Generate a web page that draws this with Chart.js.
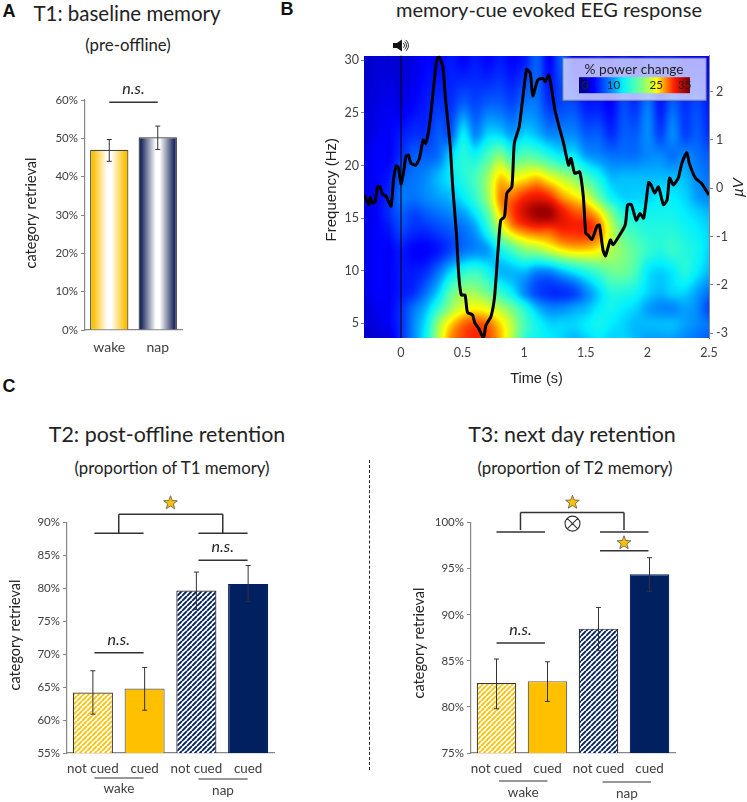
<!DOCTYPE html>
<html>
<head>
<meta charset="utf-8">
<script src="https://cdn.jsdelivr.net/npm/chart.js@4/dist/chart.umd.js"></script>
<style>
  html, body { margin: 0; padding: 0; background: #fff; }
  body { position: relative; width: 747px; height: 802px; overflow: hidden; font-family: Lato, sans-serif; color: #222; }
  canvas { position: absolute; }
  .t { position: absolute; transform: translate(-50%, -50%); white-space: nowrap; }
  .title { font-size: 20.5px; }
  .titleC { font-size: 21.4px; }
  .sub { font-size: 16.8px; }
  .letter { font-family: "Liberation Sans", sans-serif; font-weight: bold; font-size: 18px; color: #111; }
  .sep { position: absolute; left: 369px; top: 460px; height: 310px; border-left: 1px dashed #222; }
</style>
</head>
<body>
<div class="t letter" style="left:9px;top:11px">A</div>
<div class="t letter" style="left:287px;top:9px">B</div>
<div class="t letter" style="left:9px;top:386px">C</div>
<div class="t title" style="left:127px;top:13px">T1: baseline memory</div>
<div class="t sub" style="left:128px;top:44px">(pre-offline)</div>
<div class="t title" style="left:549px;top:9px;font-size:20px">memory-cue evoked EEG response</div>
<div class="t titleC" style="left:167px;top:434px">T2: post-offline retention</div>
<div class="t sub" style="left:172px;top:467px">(proportion of T1 memory)</div>
<div class="t titleC" style="left:572px;top:434px">T3: next day retention</div>
<div class="t sub" style="left:575px;top:467px">(proportion of T2 memory)</div>
<div class="sep"></div>

<canvas id="chartA" width="170" height="285" style="left:23px;top:70px"></canvas>
<canvas id="chartB" width="423" height="358" style="left:324px;top:30px"></canvas>
<canvas id="chartC1" width="270" height="316" style="left:7px;top:486px"></canvas>
<canvas id="chartC2" width="270" height="316" style="left:411px;top:486px"></canvas>

<script>
// panel A
const baselineLabels = ["wake", "nap"]
const baselineValues = [47, 50.3]
const baselineErrLow = [44, 47.1]
const baselineErrHigh = [49.7, 53.2]

// panel C, left
const cueLabels = ["not cued", "cued", "not cued", "cued"]
const t2Values = [64.2, 64.8, 79.7, 80.7]
const t2ErrLow = [60.9, 61.5, 76.8, 78.05]
const t2ErrHigh = [67.5, 68, 82.5, 83.5]

// panel C, right
const t3Values = [82.6, 82.8, 88.5, 94.4]
const t3ErrLow = [79.8, 80.6, 86.1, 92.55]
const t3ErrHigh = [85.2, 84.9, 90.8, 96.2]

// panel B, evoked response
const erpTimes = [-0.3, -0.28, -0.26, -0.25, -0.23, -0.21, -0.19, -0.17, -0.15, -0.12, -0.1, -0.08, -0.06, -0.04, -0.02, 0, 0.02, 0.04, 0.06, 0.08, 0.12, 0.15, 0.18, 0.2, 0.23, 0.26, 0.29, 0.31, 0.34, 0.36, 0.4, 0.42, 0.45, 0.47, 0.49, 0.52, 0.54, 0.58, 0.6, 0.63, 0.67, 0.69, 0.73, 0.76, 0.79, 0.81, 0.84, 0.86, 0.9, 0.92, 0.96, 0.99, 1.02, 1.05, 1.07, 1.11, 1.15, 1.17, 1.2, 1.22, 1.25, 1.28, 1.32, 1.36, 1.38, 1.41, 1.45, 1.48, 1.5, 1.52, 1.55, 1.59, 1.61, 1.64, 1.66, 1.7, 1.72, 1.76, 1.82, 1.84, 1.87, 1.91, 1.94, 1.97, 2.01, 2.03, 2.06, 2.09, 2.13, 2.16, 2.18, 2.21, 2.25, 2.28, 2.32, 2.34, 2.39, 2.44, 2.5]
const erpValues = [-0.14, -0.24, -0.34, -0.19, -0.31, -0.28, 0.03, 0.03, -0.12, -0.17, -0.28, -0.37, 0.17, 0.46, 0.43, 0.09, 0.31, 0.66, 0.69, 0.52, 0.48, 0.62, 1, 0.93, 1.28, 1.97, 2.66, 2.72, 2.52, 1.9, 0.86, 0.03, -0.93, -1.83, -2.21, -2.21, -2.57, -2.62, -2.79, -2.9, -3.1, -2.83, -2.66, -2.24, -1.21, -0.66, -0.59, -0.1, 0.03, 0.93, 1.28, 1.9, 2.46, 2.38, 1.91, 2.24, 2.28, 2.21, 2.34, 2.1, 1.62, 1.31, 0.93, 0.48, 0.62, 0.31, 0.34, -0.17, -0.93, -0.97, -1.06, -0.79, -0.76, -1.28, -1.4, -1.07, -1.17, -1.03, -0.76, -0.34, -0.34, -0.66, -0.52, -0.62, 0.12, 0.07, -0.1, 0.03, -0.34, -0.24, 0.21, 0.07, 0.21, 0.52, 0.74, 0.52, 0.21, 0.1, -0.14]

const heatTimes = [-0.3, -0.2, -0.1, 0, 0.1, 0.2, 0.3, 0.4, 0.5, 0.6, 0.7, 0.8, 0.9, 1, 1.1, 1.2, 1.3, 1.4, 1.5, 1.6, 1.7, 1.8, 1.9, 2, 2.1, 2.2, 2.3, 2.4, 2.5]
const heatFreqs = [3.6, 5, 6.5, 8, 10, 12, 14, 15.5, 17, 19, 21, 23, 26, 30.4]
const heatPower = [
  [1, 1.5, 2, 5, 9, 14, 22, 28, 30, 31, 30, 27, 22, 16, 14, 13, 12, 11, 12, 13, 12, 12, 11, 10, 10, 10, 9, 8, 7],
  [1.5, 2, 3, 5, 9, 13, 21, 26, 29, 30, 29, 26, 22, 17, 14, 12, 12, 12, 13, 14, 13, 12, 11, 11, 11, 11, 10, 9, 8],
  [1.5, 2.5, 3, 5, 8, 11, 16, 21, 24, 25, 24, 22, 19, 15, 11, 9, 9, 10, 11, 13, 14, 13, 12, 10, 9, 9, 10, 9, 6],
  [2, 3, 3, 4, 5, 8, 12, 18, 21, 21, 19, 16, 13, 9, 6, 5, 5, 6, 9, 12, 15, 15, 14, 12, 11, 12, 12, 10, 8],
  [2, 3, 3, 4, 4, 5, 8, 12, 15, 16, 14, 11, 11, 11, 9, 9, 11, 13, 15, 17, 19, 19, 17, 13, 12, 13, 15, 13, 11],
  [2, 3, 3, 4, 3, 3, 4, 6, 8, 9, 10, 14, 17, 20, 21, 23, 25, 26, 26, 25, 22, 20, 18, 16, 15, 16, 15, 14, 12],
  [2, 3, 4, 6, 5, 5, 6, 7, 8, 10, 15, 22, 27, 29, 30, 30, 31, 31, 31, 29, 23, 18, 16, 15, 15, 15, 14, 13, 12],
  [2, 3, 5, 7, 6, 7, 8, 9, 10, 13, 18, 26, 30, 33, 35, 35, 32, 30, 29, 26, 20, 15, 14, 14, 14, 14, 13, 12, 11],
  [2, 3, 5, 8, 8, 9, 10, 11, 13, 16, 21, 28, 29, 31, 32, 31, 28, 26, 24, 19, 14, 12, 12, 12, 13, 13, 12, 10, 9],
  [2, 3, 4, 7, 8, 9, 11, 13, 15, 17, 21, 26, 24, 25, 26, 24, 22, 20, 17, 14, 11, 11, 11, 11, 11, 11, 11, 9, 8],
  [2, 3, 3, 5, 7, 7, 8, 12, 15, 14, 17, 20, 16, 18, 17, 15, 13, 13, 10, 9, 8, 8, 8, 9, 9, 8, 9, 8, 7],
  [1.5, 2.5, 3, 4, 5, 5, 7, 7, 13, 9, 12, 12, 10, 12, 11, 9, 9, 9, 7, 7, 5, 7, 7, 9, 6, 9, 6, 7, 5],
  [1.5, 2, 2.5, 2, 3, 4, 5, 5, 7, 6, 7, 7, 6, 8, 8, 5, 6, 6, 4, 4, 3, 6, 5, 8, 4, 7, 5, 6, 4],
  [1, 1.5, 1.5, 1.5, 2, 3, 3, 4, 3, 4, 3, 4, 3, 4, 7, 3, 7, 3, 3, 4, 3, 4, 3, 4, 4, 4, 3, 3, 3],
]
const freqTicks = [5, 10, 15, 20, 25, 30]
const timeTicks = [0, 0.5, 1, 1.5, 2, 2.5]
const erpTicks = [-3, -2, -1, 0, 1, 2]
const legendTicks = [0, 10, 25, 35]

const GOLD = "#FFC000"
const NAVY = "#002060"
const TICK_COLOR = "#404040"
const AXIS_COLOR = "#868686"
const FONT = "Lato, sans-serif"
const SANS = '"Liberation Sans", sans-serif'

// colour stops [value, r, g, b] of the power scale
const heatStops = [
  [-2, 0, 0, 130], [0, 0, 0, 170], [3, 0, 0, 255], [10, 0, 160, 255], [13, 0, 240, 255],
  [17, 70, 255, 190], [20, 128, 255, 128], [25, 255, 255, 0], [28, 255, 144, 0],
  [31, 255, 32, 0], [35, 160, 0, 0], [37, 120, 0, 0],
]

function heatColor(v) {
  if (v <= heatStops[0][0]) return heatStops[0].slice(1)
  for (let i = 1; i < heatStops.length; i++) {
    const a = heatStops[i - 1]
    const b = heatStops[i]
    if (v <= b[0]) {
      const f = (v - a[0]) / (b[0] - a[0])
      return [a[1] + (b[1] - a[1]) * f, a[2] + (b[2] - a[2]) * f, a[3] + (b[3] - a[3]) * f]
    }
  }
  return heatStops[heatStops.length - 1].slice(1)
}

function gridPos(list, v) {
  let i = 0
  while (i < list.length - 2 && v > list[i + 1]) i++
  return i + Math.min(1, Math.max(0, (v - list[i]) / (list[i + 1] - list[i])))
}

// smooth the coarse grid the way the published map is smoothed
function catmull(a, b, c, d, t) {
  return b + 0.5 * t * (c - a + t * (2 * a - 5 * b + 4 * c - d + t * (3 * (b - c) + d - a)))
}

function heatAt(rowPos, colPos) {
  const r = Math.min(Math.floor(rowPos), heatFreqs.length - 2)
  const c = Math.min(Math.floor(colPos), heatTimes.length - 2)
  const rows = []
  for (let j = -1; j <= 2; j++) {
    const row = heatPower[Math.max(0, Math.min(heatFreqs.length - 1, r + j))]
    const at = (k) => row[Math.max(0, Math.min(heatTimes.length - 1, c + k))]
    rows.push(catmull(at(-1), at(0), at(1), at(2), colPos - c))
  }
  return catmull(rows[0], rows[1], rows[2], rows[3], rowPos - r)
}

let heatImage = null

function buildHeatImage(chart) {
  const area = chart.chartArea
  const w = Math.round(area.right - area.left)
  const h = Math.round(area.bottom - area.top)
  const off = document.createElement("canvas")
  off.width = w
  off.height = h
  const octx = off.getContext("2d")
  const img = octx.createImageData(w, h)
  for (let py = 0; py < h; py++) {
    const rowPos = gridPos(heatFreqs, chart.scales.y.getValueForPixel(area.top + py))
    for (let px = 0; px < w; px++) {
      const colPos = gridPos(heatTimes, chart.scales.x.getValueForPixel(area.left + px))
      const col = heatColor(heatAt(rowPos, colPos))
      const o = (py * w + px) * 4
      img.data[o] = col[0]
      img.data[o + 1] = col[1]
      img.data[o + 2] = col[2]
      img.data[o + 3] = 255
    }
  }
  octx.putImageData(img, 0, 0)
  return off
}

function hatch(color) {
  const size = 5
  const tile = document.createElement("canvas")
  tile.width = size
  tile.height = size
  const c = tile.getContext("2d")
  c.fillStyle = "#fff"
  c.fillRect(0, 0, size, size)
  c.strokeStyle = color
  c.lineWidth = 1.9
  c.beginPath()
  for (let i = -size; i <= size; i += size) {
    c.moveTo(i, size)
    c.lineTo(i + size, 0)
  }
  c.stroke()
  return c.createPattern(tile, "repeat")
}

function sideGradient(colors) {
  return (ctx) => {
    const chart = ctx.chart
    const color = colors[ctx.dataIndex]
    if (!chart.chartArea) return color
    const cx = chart.scales.x.getPixelForValue(ctx.dataIndex)
    const half = 19.5
    const g = chart.ctx.createLinearGradient(cx - half, 0, cx + half, 0)
    g.addColorStop(0, color)
    g.addColorStop(0.08, color)
    g.addColorStop(0.45, "#fff")
    g.addColorStop(0.55, "#fff")
    g.addColorStop(0.92, color)
    g.addColorStop(1, color)
    return g
  }
}

function line(chart, x0, y0, x1, y1, width, color) {
  const c = chart.ctx
  c.save()
  c.strokeStyle = color || "#333"
  c.lineWidth = width || 1.5
  c.beginPath()
  c.moveTo(chart.scales.x.getPixelForValue(x0), chart.scales.y.getPixelForValue(y0))
  c.lineTo(chart.scales.x.getPixelForValue(x1), chart.scales.y.getPixelForValue(y1))
  c.stroke()
  c.restore()
}

function nsLabel(chart, x, val) {
  const c = chart.ctx
  c.save()
  c.font = "italic 16px " + FONT
  c.fillStyle = "#222"
  c.textAlign = "center"
  c.textBaseline = "alphabetic"
  c.fillText("n.s.", chart.scales.x.getPixelForValue(x), chart.scales.y.getPixelForValue(val) - 8)
  c.restore()
}

function star(chart, x, val) {
  const c = chart.ctx
  const px = chart.scales.x.getPixelForValue(x)
  const py = chart.scales.y.getPixelForValue(val)
  c.save()
  c.beginPath()
  for (let i = 0; i < 10; i++) {
    const r = i % 2 ? 3 : 7.2
    const a = -Math.PI / 2 + (i * Math.PI) / 5
    c.lineTo(px + r * Math.cos(a), py + r * Math.sin(a))
  }
  c.closePath()
  c.fillStyle = GOLD
  c.fill()
  c.strokeStyle = "#555"
  c.lineWidth = 0.8
  c.stroke()
  c.restore()
}

function groupLabel(chart, x0, x1, lineOffset, text, textOffset) {
  const c = chart.ctx
  const bottom = chart.chartArea.bottom
  const p0 = chart.scales.x.getPixelForValue(x0)
  const p1 = chart.scales.x.getPixelForValue(x1)
  c.save()
  c.strokeStyle = "#333"
  c.lineWidth = 1.2
  c.beginPath()
  c.moveTo(p0, bottom + lineOffset)
  c.lineTo(p1, bottom + lineOffset)
  c.stroke()
  c.font = "13.5px " + FONT
  c.fillStyle = TICK_COLOR
  c.textAlign = "center"
  c.textBaseline = "middle"
  c.fillText(text, (p0 + p1) / 2, bottom + textOffset)
  c.restore()
}

// rotated axis caption, placed in canvas pixels
function sideLabel(chart, x, y, text, font) {
  const c = chart.ctx
  c.save()
  c.translate(x, y)
  c.rotate(-Math.PI / 2)
  c.font = font
  c.fillStyle = "#222"
  c.textAlign = "center"
  c.textBaseline = "middle"
  c.fillText(text, 0, 0)
  c.restore()
}

const errorBars = {
  id: "errorBars",
  afterDatasetsDraw(chart) {
    const { low, high } = chart.options.plugins.errorBars
    const c = chart.ctx
    c.save()
    c.strokeStyle = "#333"
    c.lineWidth = 1
    low.forEach((v, i) => {
      const x = chart.scales.x.getPixelForValue(i)
      const y0 = chart.scales.y.getPixelForValue(v)
      const y1 = chart.scales.y.getPixelForValue(high[i])
      c.beginPath()
      c.moveTo(x, y0)
      c.lineTo(x, y1)
      c.moveTo(x - 2.5, y0)
      c.lineTo(x + 2.5, y0)
      c.moveTo(x - 2.5, y1)
      c.lineTo(x + 2.5, y1)
      c.stroke()
    })
    c.restore()
  },
}

function barChart(id, cfg) {
  return new Chart(document.getElementById(id), {
    type: "bar",
    data: {
      labels: cfg.labels,
      datasets: [{
        data: cfg.values,
        backgroundColor: cfg.fills,
        borderColor: cfg.borders,
        borderWidth: 1.2,
        barPercentage: 1,
        categoryPercentage: cfg.barShare,
      }],
    },
    options: {
      responsive: false,
      animation: false,
      layout: { padding: cfg.padding },
      plugins: {
        legend: { display: false },
        tooltip: { enabled: false },
        errorBars: { low: cfg.low, high: cfg.high },
      },
      scales: {
        x: {
          grid: { display: false, drawTicks: false },
          border: { display: true, color: AXIS_COLOR, width: 1.2 },
          ticks: { color: TICK_COLOR, font: { family: FONT, size: cfg.xTickSize }, padding: cfg.xPad, maxRotation: 0, autoSkip: false },
          afterFit(s) { s.height = cfg.xHeight },
        },
        y: {
          min: cfg.min,
          max: cfg.max,
          grid: { display: true, drawOnChartArea: false, drawTicks: true, tickLength: 4, color: AXIS_COLOR },
          border: { display: true, color: AXIS_COLOR, width: 1.2 },
          ticks: { stepSize: cfg.step, color: TICK_COLOR, font: { family: FONT, size: 11.5 }, padding: 3, callback: (v) => v + "%" },
          afterFit(s) { s.width = cfg.yWidth },
        },
      },
    },
    plugins: [errorBars, {
      id: "notes",
      afterDraw(chart) {
        sideLabel(chart, 8, cfg.captionY, "category retrieval", "14.5px " + FONT)
        cfg.notes(chart)
      },
    }],
  })
}

barChart("chartA", {
  labels: baselineLabels,
  values: baselineValues,
  low: baselineErrLow,
  high: baselineErrHigh,
  fills: sideGradient([GOLD, "#1f2d60"]),
  borders: ["#444", "#333"],
  barShare: 0.79,
  min: 0,
  max: 60,
  step: 10,
  xTickSize: 14,
  xPad: 9,
  xHeight: 25,
  yWidth: 62,
  captionY: 143,
  padding: { top: 30, right: 11, left: 0, bottom: 0 },
  notes(chart) {
    line(chart, 0, 59.4, 1, 59.4, 1.5)
    nsLabel(chart, 0.5, 59.4)
  },
})

barChart("chartC1", {
  labels: cueLabels,
  values: t2Values,
  low: t2ErrLow,
  high: t2ErrHigh,
  fills: [hatch(GOLD), GOLD, hatch(NAVY), NAVY],
  borders: ["#333", "#666", "#222", NAVY],
  barShare: 0.775,
  min: 55,
  max: 90,
  step: 5,
  xTickSize: 13.4,
  xPad: 8,
  xHeight: 49,
  yWidth: 60,
  captionY: 149,
  padding: { top: 36.7, right: 3, left: 0, bottom: 0 },
  notes(chart) {
    line(chart, 0.03, 88.4, 0.98, 88.4)
    line(chart, 2.04, 88.4, 2.99, 88.4)
    line(chart, 0.5, 88.4, 0.5, 91.3)
    line(chart, 0.5, 91.3, 2.51, 91.3)
    line(chart, 2.51, 91.3, 2.51, 88.4)
    star(chart, 1.5, 93)
    line(chart, 2.04, 84.3, 2.99, 84.3)
    nsLabel(chart, 2.51, 84.3)
    line(chart, 0.03, 70.25, 0.98, 70.25)
    nsLabel(chart, 0.5, 70.25)
    groupLabel(chart, 0.03, 0.98, 25, "wake", 36)
    groupLabel(chart, 2.04, 2.99, 26, "nap", 38)
  },
})

barChart("chartC2", {
  labels: cueLabels,
  values: t3Values,
  low: t3ErrLow,
  high: t3ErrHigh,
  fills: [hatch(GOLD), GOLD, hatch(NAVY), NAVY],
  borders: ["#333", "#666", "#222", NAVY],
  barShare: 0.775,
  min: 75,
  max: 100,
  step: 5,
  xTickSize: 13.4,
  xPad: 8,
  xHeight: 49,
  yWidth: 60,
  captionY: 157,
  padding: { top: 36.7, right: 6, left: 0, bottom: 0 },
  notes(chart) {
    line(chart, 0, 99, 0.95, 99)
    line(chart, 2.03, 99, 2.98, 99)
    line(chart, 0.47, 99.2, 0.47, 101.1)
    line(chart, 0.47, 101.1, 2.5, 101.1)
    line(chart, 2.5, 101.1, 2.5, 99.2)
    star(chart, 1.49, 102.2)
    line(chart, 2.03, 96.96, 2.98, 96.96)
    star(chart, 2.5, 97.8)
    line(chart, 0, 86.94, 0.95, 86.94)
    nsLabel(chart, 0.47, 86.94)
    // interaction marker
    const c = chart.ctx
    const px = chart.scales.x.getPixelForValue(1.49)
    const py = chart.scales.y.getPixelForValue(99.9)
    const r = 7.5
    const d = r * Math.SQRT1_2
    c.save()
    c.strokeStyle = "#333"
    c.fillStyle = "#fff"
    c.lineWidth = 1.1
    c.beginPath()
    c.arc(px, py, r, 0, 2 * Math.PI)
    c.fill()
    c.moveTo(px - d, py - d)
    c.lineTo(px + d, py + d)
    c.moveTo(px - d, py + d)
    c.lineTo(px + d, py - d)
    c.stroke()
    c.restore()
    groupLabel(chart, 0.05, 1, 28, "wake", 40)
    groupLabel(chart, 2.08, 3.03, 29, "nap", 41)
  },
})

const heatPlugin = {
  id: "heatMap",
  beforeDatasetsDraw(chart) {
    if (!heatImage) heatImage = buildHeatImage(chart)
    const area = chart.chartArea
    const c = chart.ctx
    c.drawImage(heatImage, area.left, area.top, area.right - area.left, area.bottom - area.top)
    const x0 = chart.scales.x.getPixelForValue(0)
    const xd = chart.scales.x.getPixelForValue(-0.1)
    c.save()
    c.strokeStyle = "#000"
    c.lineWidth = 1
    c.beginPath()
    c.moveTo(x0, area.top)
    c.lineTo(x0, area.bottom)
    c.stroke()
    c.setLineDash([1, 2])
    c.strokeStyle = "rgba(0,0,0,0.3)"
    c.beginPath()
    c.moveTo(xd, area.top)
    c.lineTo(xd, area.bottom)
    c.stroke()
    c.restore()
  },
  afterDraw(chart) {
    const c = chart.ctx
    const area = chart.chartArea
    // colour legend sits in the top right corner of the map
    const boxX = area.right - 146
    const boxY = area.top + 2.5
    c.save()
    c.fillStyle = "rgba(226,226,255,0.78)"
    c.strokeStyle = "#8a8a9a"
    c.lineWidth = 1
    c.fillRect(boxX, boxY, 143, 42)
    c.strokeRect(boxX, boxY, 143, 42)
    c.font = "13.7px " + FONT
    c.fillStyle = "#222"
    c.textAlign = "center"
    c.textBaseline = "middle"
    c.fillText("% power change", boxX + 71, boxY + 11)
    const barX = boxX + 16
    const barY = boxY + 19
    const barW = 111
    const zeroX = barX + 6
    const perUnit = 2.85
    for (let i = 0; i < barW; i++) {
      const col = heatColor((barX + i - zeroX) / perUnit)
      c.fillStyle = `rgb(${col[0]},${col[1]},${col[2]})`
      c.fillRect(barX + i, barY, 1, 16)
    }
    c.font = "11.5px " + FONT
    c.fillStyle = "#222"
    legendTicks.forEach((v) => c.fillText(String(v), zeroX + v * perUnit, barY + 8.5))
    c.restore()

    // speaker above the stimulus onset
    const sx = chart.scales.x.getPixelForValue(0)
    const sy = 15.5
    c.save()
    c.fillStyle = "#111"
    c.strokeStyle = "#111"
    c.beginPath()
    c.moveTo(sx - 8, sy - 2.5)
    c.lineTo(sx - 4, sy - 2.5)
    c.lineTo(sx + 1, sy - 6)
    c.lineTo(sx + 1, sy + 6)
    c.lineTo(sx - 4, sy + 2.5)
    c.lineTo(sx - 8, sy + 2.5)
    c.closePath()
    c.fill()
    c.lineWidth = 0.9
    ;[3, 5, 7].forEach((r) => {
      c.beginPath()
      c.arc(sx + 0.5, sy, r, -0.9, 0.9)
      c.stroke()
    })
    c.restore()

    sideLabel(chart, 8, area.top + 134, "Frequency (Hz)", "15px " + SANS)
    sideLabel(chart, 415, area.top + 132, "µV", "italic 15px " + SANS)
  },
}

new Chart(document.getElementById("chartB"), {
  type: "line",
  data: {
    datasets: [{
      data: erpTimes.map((t, i) => ({ x: t, y: erpValues[i] })),
      yAxisID: "y1",
      borderColor: "#000",
      borderWidth: 3,
      borderJoinStyle: "round",
      pointRadius: 0,
      tension: 0.2,
    }],
  },
  options: {
    responsive: false,
    animation: false,
    layout: { padding: { top: 25.7, left: 0, right: 0, bottom: 0 } },
    plugins: { legend: { display: false }, tooltip: { enabled: false } },
    scales: {
      x: {
        type: "linear",
        min: -0.3,
        max: 2.5,
        afterBuildTicks(s) { s.ticks = timeTicks.map((v) => ({ value: v })) },
        grid: { display: false, drawTicks: false },
        border: { display: false },
        ticks: { color: TICK_COLOR, font: { family: FONT, size: 12.5 }, padding: 7, autoSkip: false, maxRotation: 0, callback: (v) => String(v) },
        title: { display: true, text: "Time (s)", color: "#222", font: { family: SANS, size: 14.5 }, padding: 0 },
        afterFit(s) { s.height = 50 },
      },
      y: {
        position: "left",
        min: 3.6,
        max: 30.44,
        afterBuildTicks(s) { s.ticks = freqTicks.map((v) => ({ value: v })) },
        grid: { display: true, drawOnChartArea: false, drawTicks: true, tickLength: 3, color: AXIS_COLOR },
        border: { display: false },
        ticks: { color: TICK_COLOR, font: { family: FONT, size: 12.5 }, padding: 2, autoSkip: false, callback: (v) => String(v) },
        afterFit(s) { s.width = 40 },
      },
      y1: {
        position: "right",
        min: -3.1,
        max: 2.745,
        afterBuildTicks(s) { s.ticks = erpTicks.map((v) => ({ value: v })) },
        grid: { display: true, drawOnChartArea: false, drawTicks: true, tickLength: 4, color: AXIS_COLOR },
        border: { display: true, color: AXIS_COLOR },
        ticks: { color: TICK_COLOR, font: { family: FONT, size: 12.5 }, padding: 3, autoSkip: false, callback: (v) => String(v) },
        afterFit(s) { s.width = 38 },
      },
    },
  },
  plugins: [heatPlugin],
})
</script>
</body>
</html>
